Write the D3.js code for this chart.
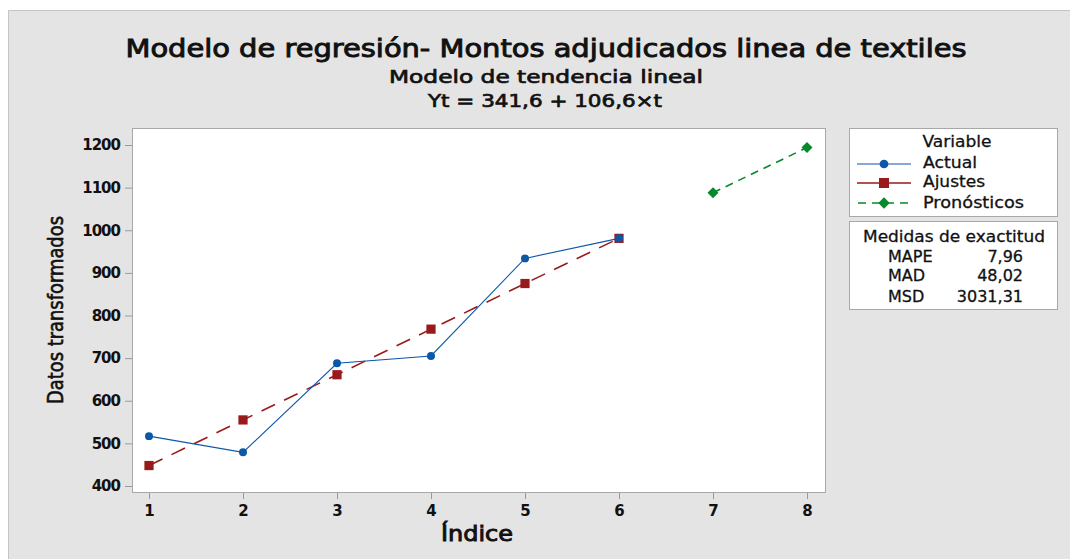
<!DOCTYPE html>
<html>
<head>
<meta charset="utf-8">
<script src="https://cdn.jsdelivr.net/npm/d3@7"></script>
<style>
html,body{margin:0;padding:0;background:#fff;}
svg{display:block;}
text{font-family:"DejaVu Sans","Open Sans",sans-serif;fill:#111;}
</style>
</head>
<body>
<svg id="chart" width="1070" height="559"></svg>
<script>
// ---- data ----
const indices = [1, 2, 3, 4, 5, 6];
const actual = [517, 479, 688, 705, 934, 981];
const fitted = [448, 555, 661, 768, 875, 981];
const forecastIdx = [7, 8];
const forecast = [1088, 1194];
const xTicks = [1, 2, 3, 4, 5, 6, 7, 8];
const yTicks = [400, 500, 600, 700, 800, 900, 1000, 1100, 1200];
const seriesNames = ["Actual", "Ajustes", "Pronósticos"];
const measureNames = ["MAPE", "MAD", "MSD"];
const measureValues = ["7,96", "48,02", "3031,31"];
const titleText = "Modelo de regresión- Montos adjudicados linea de textiles";
const subtitleText = "Modelo de tendencia lineal";
const equationText = "Yt = 341,6 + 106,6×t";

// ---- layout ----
const W = 1070, H = 559;
const plot = {left: 132, right: 825, top: 128, bottom: 492};
const colors = {actual: "#0b57a8", fit: "#981a1a", fc: "#07882b"};

const svg = d3.select("#chart");

// background panel
svg.append("rect").attr("x", 8).attr("y", 10).attr("width", W - 8).attr("height", H - 10)
  .attr("fill", "#e4e4e4");
svg.append("path").attr("d", `M8.5,${H} V10.5 H${W}`).attr("fill", "none").attr("stroke", "#c4c4c4");

// titles
svg.append("text").attr("x", 546).attr("y", 57).attr("text-anchor", "middle")
  .style("font-size", "24px").style("stroke", "#111").style("stroke-width", "0.9")
  .attr("textLength", 841).attr("lengthAdjust", "spacingAndGlyphs").text(titleText);
svg.append("text").attr("x", 546).attr("y", 83).attr("text-anchor", "middle")
  .style("font-size", "18px").style("stroke", "#111").style("stroke-width", "0.7")
  .attr("textLength", 314).attr("lengthAdjust", "spacingAndGlyphs").text(subtitleText);
svg.append("text").attr("x", 545).attr("y", 107).attr("text-anchor", "middle")
  .style("font-size", "18px").style("stroke", "#111").style("stroke-width", "0.7")
  .attr("textLength", 234).attr("lengthAdjust", "spacingAndGlyphs").text(equationText);

// plot area
svg.append("rect").attr("x", plot.left + 0.5).attr("y", plot.top + 0.5)
  .attr("width", plot.right - plot.left).attr("height", plot.bottom - plot.top)
  .attr("fill", "#fff").attr("stroke", "#a8a8a8");

const x = d3.scaleLinear().domain([1, 8]).range([149, 807]);
const y = d3.scaleLinear().domain([400, 1200]).range([486, 145]);

// axes
const yAxis = d3.axisLeft(y).tickValues(yTicks).tickSize(7).tickPadding(5).tickFormat(d3.format("d"));
const gy = svg.append("g").attr("transform", `translate(${plot.left},0)`).call(yAxis);
gy.select(".domain").remove();
gy.selectAll(".tick line").attr("stroke", "#9a9a9a");
gy.selectAll(".tick text").style("font-size", "15px").style("font-family", "DejaVu Sans")
  .style("font-weight", "bold").style("letter-spacing", "-1px").attr("fill", "#111");

const xAxis = d3.axisBottom(x).tickValues(xTicks).tickSize(6).tickPadding(6).tickFormat(d3.format("d"));
const gx = svg.append("g").attr("transform", `translate(0,${plot.bottom + 1})`).call(xAxis);
gx.select(".domain").remove();
gx.selectAll(".tick line").attr("stroke", "#9a9a9a");
gx.selectAll(".tick text").style("font-size", "15px").style("font-family", "DejaVu Sans")
  .style("font-weight", "bold").attr("fill", "#111");

// axis titles
svg.append("text").attr("x", 477).attr("y", 541).attr("text-anchor", "middle")
  .style("font-size", "21px").style("stroke", "#111").style("stroke-width", "0.9")
  .attr("textLength", 72).attr("lengthAdjust", "spacingAndGlyphs").text("Índice");
svg.append("text").attr("transform", "translate(63,310) rotate(-90)").attr("text-anchor", "middle")
  .style("font-size", "21px").style("stroke", "#111").style("stroke-width", "0.6")
  .attr("textLength", 188).attr("lengthAdjust", "spacingAndGlyphs").text("Datos transformados");

// lines
const line = d3.line().x(d => x(d[0])).y(d => y(d[1]));
const actualPts = indices.map((t, i) => [t, actual[i]]);
const fitPts = indices.map((t, i) => [t, fitted[i]]);
const fcPts = forecastIdx.map((t, i) => [t, forecast[i]]);

svg.append("path").datum(fitPts).attr("d", line).attr("fill", "none")
  .attr("stroke", colors.fit).attr("stroke-width", 1.6).attr("stroke-dasharray", "15,10");
svg.append("path").datum(actualPts).attr("d", line).attr("fill", "none")
  .attr("stroke", colors.actual).attr("stroke-width", 1.1);
svg.append("path").datum(fcPts).attr("d", line).attr("fill", "none")
  .attr("stroke", colors.fc).attr("stroke-width", 1.6).attr("stroke-dasharray", "8,6");

// markers
const sym = (type, size) => d3.symbol().type(type).size(size)();
svg.selectAll(".mfit").data(fitPts).join("path").attr("class", "mfit")
  .attr("transform", d => `translate(${x(d[0])},${y(d[1])})`)
  .attr("d", sym(d3.symbolSquare, 85)).attr("fill", colors.fit);
svg.selectAll(".mact").data(actualPts).join("path").attr("class", "mact")
  .attr("transform", d => `translate(${x(d[0])},${y(d[1])})`)
  .attr("d", sym(d3.symbolCircle, 50)).attr("fill", colors.actual);
svg.selectAll(".mfc").data(fcPts).join("path").attr("class", "mfc")
  .attr("transform", d => `translate(${x(d[0])},${y(d[1])}) rotate(45)`)
  .attr("d", sym(d3.symbolSquare, 60)).attr("fill", colors.fc);

// legend box 1
const legFont = "16px";
svg.append("rect").attr("x", 849.5).attr("y", 128.5).attr("width", 208).attr("height", 88)
  .attr("fill", "#fff").attr("stroke", "#a8a8a8");
svg.append("text").attr("x", 957).attr("y", 147).attr("text-anchor", "middle")
  .style("font-size", legFont).style("stroke", "#111").style("stroke-width", "0.3")
  .attr("textLength", 69).attr("lengthAdjust", "spacingAndGlyphs").text("Variable");
const legY = [164, 183, 203];
const legText = [168, 187, 208];
const legLen = [54, 62, 101];
const legStyles = [
  {color: colors.actual, dash: null, w: 1.2, type: d3.symbolCircle, size: 60, rot: 0},
  {color: colors.fit, dash: null, w: 1.6, type: d3.symbolSquare, size: 100, rot: 0},
  {color: colors.fc, dash: "8,6", w: 1.6, type: d3.symbolSquare, size: 65, rot: 45}
];
seriesNames.forEach((name, i) => {
  const s = legStyles[i];
  const l = svg.append("line").attr("x1", 857).attr("x2", 911).attr("y1", legY[i]).attr("y2", legY[i])
    .attr("stroke", s.color).attr("stroke-width", s.w);
  if (s.dash) l.attr("stroke-dasharray", s.dash).attr("stroke-dashoffset", -1);
  svg.append("path").attr("transform", `translate(884,${legY[i]}) rotate(${s.rot})`)
    .attr("d", sym(s.type, s.size)).attr("fill", s.color);
  svg.append("text").attr("x", 923).attr("y", legText[i]).style("font-size", legFont)
    .style("stroke", "#111").style("stroke-width", "0.3")
    .attr("textLength", legLen[i]).attr("lengthAdjust", "spacingAndGlyphs").text(name);
});

// legend box 2
svg.append("rect").attr("x", 849.5).attr("y", 221.5).attr("width", 208).attr("height", 88)
  .attr("fill", "#fff").attr("stroke", "#a8a8a8");
svg.append("text").attr("x", 954).attr("y", 242).attr("text-anchor", "middle")
  .style("font-size", legFont).style("stroke", "#111").style("stroke-width", "0.3")
  .attr("textLength", 182).attr("lengthAdjust", "spacingAndGlyphs").text("Medidas de exactitud");
const mY = [262, 281, 302];
measureNames.forEach((n, i) => {
  svg.append("text").attr("x", 888).attr("y", mY[i]).style("font-size", legFont)
    .style("stroke", "#111").style("stroke-width", "0.3").text(n);
  svg.append("text").attr("x", 1023).attr("y", mY[i]).attr("text-anchor", "end")
    .style("font-size", legFont).style("stroke", "#111").style("stroke-width", "0.3").text(measureValues[i]);
});
</script>
</body>
</html>
